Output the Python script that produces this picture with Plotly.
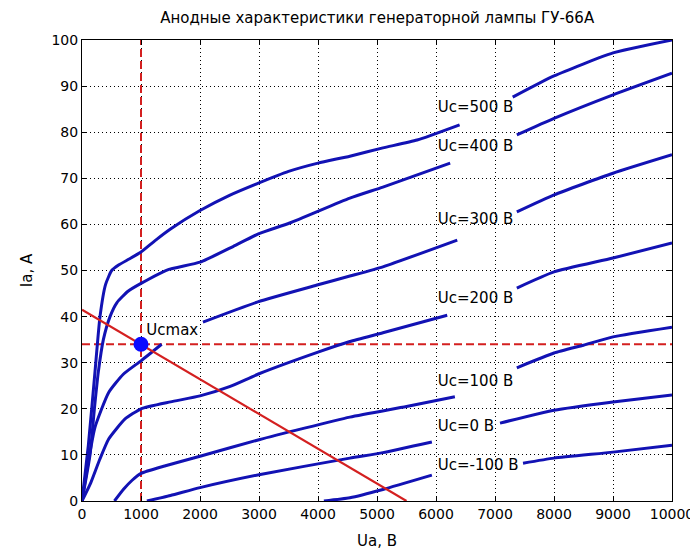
import plotly.graph_objects as go

# ---- data ----
uc500_x = [0, 107, 220, 305, 400, 503, 620, 800, 1000, 1250, 1500, 2000, 2500, 3000, 3500, 4000, 4540, 5100, 5680, 6400,
           None, 7300, 8000, 9000, 10000]
uc500_y = [0, 12, 28, 40, 47, 50, 51.2, 52.5, 54, 56.6, 59, 63, 66.3, 69, 71.5, 73.3, 74.8, 76.6, 78.3, 81.6,
           None, 87.6, 92.2, 97.2, 100]

uc400_x = [0, 136, 210, 277, 362, 475, 590, 780, 1000, 1440, 2000, 2560, 3000, 3520, 4540, 5100, 6240,
           None, 7370, 8000, 9000, 10000]
uc400_y = [0, 10, 20, 28, 35, 40, 43, 45.5, 47.2, 50.1, 51.8, 55.2, 58, 60.3, 65.7, 68.1, 73.3,
           None, 79.4, 83, 88.1, 92.8]

uc300_x = [0, 100, 220, 450, 700, 1000, 1350, None, 2050, 2980, 4000, 4540, 5100, 6360,
           None, 7370, 8000, 9000, 10000]
uc300_y = [0, 8, 16, 23.5, 27.5, 30.4, 34, None, 38.8, 43.2, 46.9, 48.8, 50.8, 56.6,
           None, 62.7, 66.4, 71.1, 75.1]

uc200_x = [0, 150, 300, 450, 730, 1000, 1500, 2000, 2500, 3000, 4000, 4540, 5100, 6190,
           None, 7370, 8000, 9000, 10000]
uc200_y = [0, 4, 9, 13.4, 17.8, 20, 21.5, 22.8, 24.8, 27.6, 32.3, 34.6, 36.5, 40.3,
           None, 46.2, 49.7, 52.7, 56]

uc100_x = [550, 700, 850, 1000, 1400, 2000, 3000, 4540, 5500, 6320,
           None, 7370, 8000, 8500, 9000, 10000]
uc100_y = [0, 2.5, 4.5, 6, 7.6, 9.7, 13.3, 18.2, 20.5, 22.6,
           None, 28.9, 32.1, 33.8, 35.6, 37.7]

uc0_x = [1100, 1500, 2000, 3000, 4540, 5100, 5930, None, 7085, 8000, 9000, 10000]
uc0_y = [0, 1.2, 2.9, 5.7, 9.3, 10.5, 12.8, None, 16.9, 19.7, 21.5, 23]

ucm100_x = [4100, 4540, 5100, 5930, None, 7475, 8000, 9000, 10000]
ucm100_y = [0, 0.7, 2.5, 5.6, None, 8.2, 9.3, 10.6, 12.1]

curves = [(uc500_x, uc500_y), (uc400_x, uc400_y), (uc300_x, uc300_y), (uc200_x, uc200_y),
          (uc100_x, uc100_y), (uc0_x, uc0_y), (ucm100_x, ucm100_y)]

label_texts = ["Uc=500 В", "Uc=400 В", "Uc=300 В", "Uc=200 В", "Uc=100 В", "Uc=0 В", "Uc=-100 В"]
label_x = [6030, 6030, 6030, 6030, 6030, 6030, 6030]
label_y = [85.1, 76.8, 60.8, 43.8, 25.7, 15.9, 7.6]

# operating point and lines
ua_op = 1000
ia_op = 34
load_x = [0, 5500]
load_y = [41.5, 0]
vline_x = [ua_op, ua_op]
vline_y = [0, 100]
hline_x = [0, 10000]
hline_y = [ia_op, ia_op]

x_ticks = [0, 1000, 2000, 3000, 4000, 5000, 6000, 7000, 8000, 9000, 10000]
y_ticks = [0, 10, 20, 30, 40, 50, 60, 70, 80, 90, 100]

BLUE = "#1212b4"
RED = "#d42020"
FONT = "DejaVu Sans"

fig = go.Figure()

fig.add_trace(go.Scatter(x=vline_x, y=vline_y, mode="lines",
                         line=dict(color=RED, width=2, dash="8px,4px"), hoverinfo="skip"))
fig.add_trace(go.Scatter(x=hline_x, y=hline_y, mode="lines",
                         line=dict(color=RED, width=2, dash="8px,4px"), hoverinfo="skip"))

for cx, cy in curves:
    fig.add_trace(go.Scatter(x=cx, y=cy, mode="lines", connectgaps=False,
                             line=dict(color=BLUE, width=3, shape="spline", smoothing=0.5)))

fig.add_trace(go.Scatter(x=load_x, y=load_y, mode="lines", line=dict(color=RED, width=2.2)))

fig.add_trace(go.Scatter(x=[ua_op], y=[ia_op], mode="markers",
                         marker=dict(color="#0a0aff", size=15)))

fig.add_trace(go.Scatter(x=label_x, y=label_y, mode="text", text=label_texts,
                         textposition="middle right",
                         textfont=dict(family=FONT, size=15, color="black")))
fig.add_trace(go.Scatter(x=[1090], y=[36.8], mode="text", text=["Ucmax"],
                         textposition="middle right",
                         textfont=dict(family=FONT, size=15, color="black")))

axis_common = dict(showline=True, linecolor="black", linewidth=1, mirror="allticks",
                   ticks="inside", ticklen=5, tickcolor="black", automargin=False,
                   ticklabeloverflow="allow",
                   showgrid=True, gridcolor="black", gridwidth=1, griddash="1px,3px",
                   zeroline=False, tickfont=dict(family=FONT, size=14, color="black"))

fig.update_xaxes(range=[0, 10000], tickvals=x_ticks, ticktext=[str(v) for v in x_ticks],
                 title=dict(text="Ua, В", font=dict(family=FONT, size=15, color="black"), standoff=14),
                 **axis_common)
fig.update_yaxes(range=[0, 100], tickvals=y_ticks, ticktext=[str(v) for v in y_ticks],
                 title=dict(text="Ia, А", font=dict(family=FONT, size=15, color="black"), standoff=15),
                 **axis_common)

# the page body adds an 8px offset, so the figure is sized/marged to compensate
fig.update_layout(
    width=690, height=543,
    margin=dict(l=74, r=26, t=32, b=50, autoexpand=False),
    paper_bgcolor="white", plot_bgcolor="white",
    showlegend=False,
    title=dict(text="Анодные характеристики генераторной лампы ГУ-66А",
               font=dict(family=FONT, size=15, color="black"),
               x=0.535, xanchor="center", y=0.982, yanchor="middle"),
)

fig.write_html("out.html")
